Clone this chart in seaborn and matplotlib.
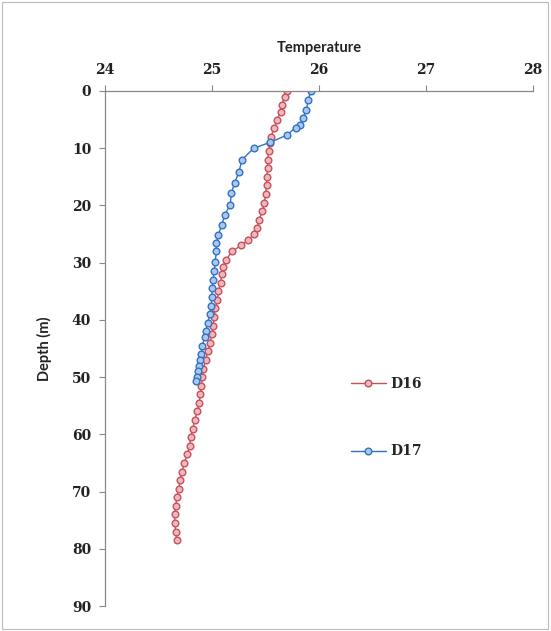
import pandas as pd
import numpy as np
import matplotlib
matplotlib.use("Agg")
import matplotlib.pyplot as plt
import matplotlib.colors as mcolors
from matplotlib.patches import Rectangle
import seaborn as sns

# station D16 profile (depth in m, temperature)
d16_depth = [0, 1, 2.4, 3.6, 5, 6.5, 8, 9.1, 10.5, 12, 13.5, 15, 16.5, 18, 19.5,
             21, 22.5, 24, 25, 26, 27, 28, 29.5, 30.7, 32, 33.5, 35, 36.5, 38,
             39.5, 41, 42.5, 44, 45.5, 47, 48.5, 50, 51.5, 53, 54.5, 56, 57.5,
             59, 60.5, 62, 63.5, 65, 66.5, 68, 69.5, 71, 72.5, 74, 75.5, 77, 78.4]
d16_temp = [25.70, 25.68, 25.65, 25.64, 25.61, 25.58, 25.55, 25.54, 25.53, 25.52,
            25.52, 25.51, 25.51, 25.50, 25.49, 25.47, 25.44, 25.42, 25.39, 25.34,
            25.27, 25.19, 25.13, 25.10, 25.09, 25.08, 25.06, 25.05, 25.03, 25.02,
            25.01, 25.00, 24.98, 24.96, 24.94, 24.92, 24.91, 24.90, 24.89, 24.88,
            24.86, 24.84, 24.82, 24.80, 24.79, 24.77, 24.74, 24.72, 24.70, 24.69,
            24.67, 24.66, 24.65, 24.65, 24.66, 24.67]

# station D17 profile
d17_depth = [0, 1.6, 3.3, 4.8, 6.0, 6.4, 7.7, 9.0, 10.0, 12.0, 14.2, 16.1, 17.9,
             19.9, 21.6, 23.4, 25.1, 26.6, 28.0, 29.8, 31.5, 33, 34.5, 36, 37.5,
             39, 40.5, 42, 43, 44.5, 46, 47, 48, 49, 50, 50.6]
d17_temp = [25.92, 25.90, 25.88, 25.85, 25.82, 25.78, 25.70, 25.54, 25.39, 25.28,
            25.25, 25.21, 25.18, 25.17, 25.12, 25.09, 25.06, 25.04, 25.04, 25.03,
            25.02, 25.01, 25.00, 25.00, 24.99, 24.98, 24.96, 24.94, 24.93, 24.91,
            24.90, 24.89, 24.88, 24.87, 24.86, 24.85]

stations = ["D16", "D17"]
x_ticks = [24, 25, 26, 27, 28]
y_ticks = [0, 10, 20, 30, 40, 50, 60, 70, 80, 90]

sns.set_theme(style="white")

df = pd.concat([
    pd.DataFrame({"Depth": d16_depth, "Temperature": d16_temp, "Station": "D16"}),
    pd.DataFrame({"Depth": d17_depth, "Temperature": d17_temp, "Station": "D17"}),
], ignore_index=True)

colours = {"D16": "#c94f5a", "D17": "#2f72c8"}

fig = plt.figure(figsize=(5.51, 6.31), dpi=100)
ax = fig.add_axes([0.1906, 0.0396, 0.777, 0.8162])

sns.lineplot(data=df, x="Temperature", y="Depth", hue="Station", palette=colours,
             sort=False, estimator=None, marker="o", markersize=4.8,
             markeredgewidth=1.0, linewidth=1.0, ax=ax)

# coloured marker edge with a lighter fill, like the original
for line in ax.lines[:2]:
    c = np.array(mcolors.to_rgb(line.get_color()))
    line.set_markeredgecolor(tuple(c))
    line.set_markerfacecolor(tuple(c + (1 - c) * 0.6))

ax.set_xlim(24, 28)
ax.set_ylim(90, 0)
ax.set_xticks(x_ticks)
ax.set_yticks(y_ticks)
ax.xaxis.tick_top()
ax.xaxis.set_label_position("top")

tick_font = {"family": "DejaVu Serif", "weight": "bold", "size": 10}
ax.set_xticklabels([str(t) for t in x_ticks], fontdict=tick_font, color="#222222")
ax.set_yticklabels([str(t) for t in y_ticks], fontdict=tick_font, color="#222222")
ax.tick_params(axis="both", which="both", length=4, width=0.8, color="#888888",
               top=True, left=True, bottom=False, right=False, pad=6)

ax.set_xlabel("Temperature", fontdict={"family": "Lato", "weight": "bold", "size": 10.5},
              labelpad=8, color="#222222")
ax.set_ylabel("Depth (m)", fontdict={"family": "Lato", "weight": "bold", "size": 10.5},
              labelpad=14, color="#222222")

for side in ["right", "bottom"]:
    ax.spines[side].set_visible(False)
for side in ["left", "top"]:
    ax.spines[side].set_color("#888888")
    ax.spines[side].set_linewidth(0.9)
ax.grid(False)

# legend without frame, spread out vertically like Excel
handles = ax.lines[:2]
ax.legend(handles=handles, labels=stations, frameon=False, loc="upper left",
          bbox_to_anchor=(344 / 551, 1 - 370 / 631), bbox_transform=fig.transFigure,
          borderpad=0, handlelength=2.5, handletextpad=0.3, labelspacing=3.85,
          prop={"family": "DejaVu Serif", "weight": "bold", "size": 10})

# thin chart-area border
fig.patches.append(Rectangle((0.004, 0.003), 0.99, 0.994, transform=fig.transFigure,
                             fill=False, edgecolor="#bbbbbb", linewidth=0.8))

fig.savefig("out.png", dpi=100)
